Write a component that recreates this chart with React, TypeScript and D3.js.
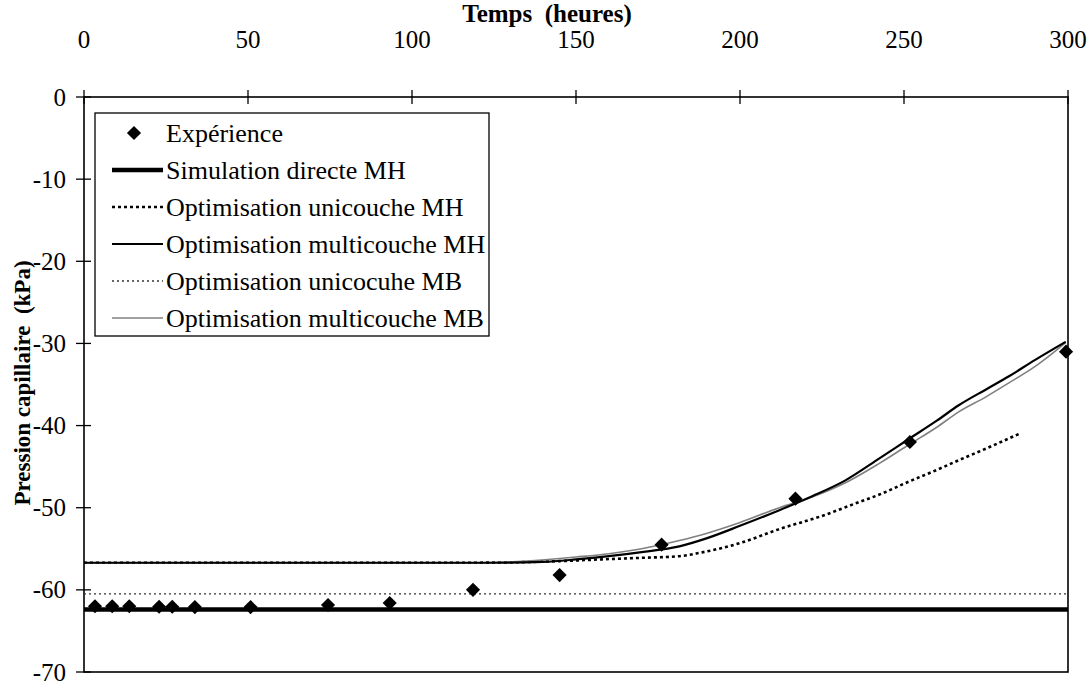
import React from "react";
import * as d3 from "d3";

const xTicks = [0, 50, 100, 150, 200, 250, 300];
const yTicks = [0, -10, -20, -30, -40, -50, -60, -70];

const expT = [3.35, 8.6, 13.8, 22.9, 26.9, 33.8, 50.8, 74.4, 93.2, 118.6, 145.0, 176.1, 216.9, 251.8, 299.4];
const expP = [-62.0, -62.0, -62.0, -62.05, -62.05, -62.1, -62.1, -61.85, -61.6, -60.0, -58.2, -54.5, -48.9, -42.0, -31.0];

const simT = [0, 300];
const simP = [-62.4, -62.4];

const uniMHT = [0, 115, 130, 145, 157, 170, 181.5, 187.6, 200, 212, 225, 236.4, 242.5, 251.6, 260, 266.8, 275, 285.7];
const uniMHP = [-56.7, -56.7, -56.65, -56.5, -56.3, -56.1, -55.9, -55.5, -54.3, -52.6, -51.0, -49.3, -48.4, -46.8, -45.4, -44.2, -42.8, -40.9];

const multiMHT = [0, 100, 125, 140, 150, 160, 170, 181.5, 190, 200, 212, 222, 232, 242.5, 251.6, 260, 266.8, 275, 282, 290, 299.3];
const multiMHP = [-56.7, -56.7, -56.7, -56.6, -56.3, -55.9, -55.4, -54.7, -53.7, -52.2, -50.3, -48.6, -46.7, -44.0, -41.6, -39.4, -37.5, -35.6, -34.0, -32.0, -29.8];

const uniMBT = [0, 300];
const uniMBP = [-60.5, -60.5];

const multiMBT = [0, 120, 135, 150, 160, 170, 181.5, 190, 200, 212, 222, 232, 242.5, 251.6, 260, 266.8, 275, 282, 290, 299.3];
const multiMBP = [-56.7, -56.7, -56.5, -56.0, -55.6, -55.0, -54.0, -53.1, -51.8, -50.0, -48.7, -47.0, -44.6, -42.3, -40.2, -38.3, -36.5, -34.8, -32.8, -29.9];

const legendLabels = [
  "Expérience",
  "Simulation directe MH",
  "Optimisation unicouche MH",
  "Optimisation multicouche MH",
  "Optimisation unicocuhe MB",
  "Optimisation multicouche MB",
];

const FONT = "Liberation Serif, Times New Roman, DejaVu Serif, serif";

const styles = {
  sim: { stroke: "#000", width: 4.5, dash: "" },
  uniMH: { stroke: "#000", width: 2.6, dash: "3,3" },
  multiMH: { stroke: "#000", width: 2.2, dash: "" },
  uniMB: { stroke: "#333", width: 1.3, dash: "2,3" },
  multiMB: { stroke: "#808080", width: 1.6, dash: "" },
};

const tf = { fontFamily: FONT };

export default function App() {
  const W = 1092, H = 685;
  const x = d3.scaleLinear().domain([0, 300]).range([84, 1068]);
  const y = d3.scaleLinear().domain([0, -70]).range([97, 672]);

  const line = d3
    .line<[number, number]>()
    .x((d) => x(d[0]))
    .y((d) => y(d[1]))
    .curve(d3.curveMonotoneX);

  const zip = (a: number[], b: number[]) => a.map((v, i) => [v, b[i]] as [number, number]);

  const series = [
    { key: "uniMB", d: zip(uniMBT, uniMBP), s: styles.uniMB },
    { key: "sim", d: zip(simT, simP), s: styles.sim },
    { key: "uniMH", d: zip(uniMHT, uniMHP), s: styles.uniMH },
    { key: "multiMB", d: zip(multiMBT, multiMBP), s: styles.multiMB },
    { key: "multiMH", d: zip(multiMHT, multiMHP), s: styles.multiMH },
  ];

  const diamond = d3.symbol().type(d3.symbolSquare).size(100)() as string;

  const legendX = 95, legendY = 113, legendW = 394, legendH = 223;
  const rowY = (i: number) => 133 + i * 37;
  const legendStyles = [null, styles.sim, styles.uniMH, styles.multiMH, styles.uniMB, styles.multiMB];

  return (
    <svg width={W} height={H} style={{ position: "absolute", left: 0, top: 0, background: "#fff" }}>
      <rect x={0} y={0} width={W} height={H} fill="#fff" />
      {/* title */}
      <text x={547} y={22} textAnchor="middle" fontSize={25} fontWeight="bold" style={{ ...tf, whiteSpace: "pre" }}>
        {"Temps  (heures)"}
      </text>
      {/* y label */}
      <text
        transform={`translate(22,383) rotate(-90)`}
        textAnchor="middle"
        dominantBaseline="central"
        fontSize={23}
        fontWeight="bold"
        style={{ ...tf, whiteSpace: "pre" }}
      >
        {"Pression capillaire  (kPa)"}
      </text>

      {/* frame */}
      <rect x={x(0)} y={y(0)} width={x(300) - x(0)} height={y(-70) - y(0)} fill="none" stroke="#000" strokeWidth={1.6} />

      {/* top ticks */}
      {xTicks.map((t) => (
        <g key={"xt" + t}>
          <line x1={x(t)} x2={x(t)} y1={y(0) - 7} y2={y(0) + 7} stroke="#000" strokeWidth={1.3} />
          <text x={x(t)} y={48} textAnchor="middle" fontSize={25} style={tf}>
            {t}
          </text>
        </g>
      ))}
      {/* y ticks */}
      {yTicks.map((t) => (
        <g key={"yt" + t}>
          <line x1={x(0) - 8} x2={x(0) + 7} y1={y(t)} y2={y(t)} stroke="#000" strokeWidth={1.3} />
          <text x={66} y={y(t)} textAnchor="end" dominantBaseline="central" fontSize={25} style={tf}>
            {t}
          </text>
        </g>
      ))}

      {/* lines */}
      {series.map((sr) => (
        <path
          key={sr.key}
          d={line(sr.d) as string}
          fill="none"
          stroke={sr.s.stroke}
          strokeWidth={sr.s.width}
          strokeDasharray={sr.s.dash || undefined}
        />
      ))}

      {/* experiment points */}
      {expT.map((t, i) => (
        <path key={"p" + i} d={diamond} transform={`translate(${x(t)},${y(expP[i])}) rotate(45)`} fill="#000" />
      ))}

      {/* legend */}
      <rect x={legendX} y={legendY} width={legendW} height={legendH} fill="#fff" stroke="#000" strokeWidth={1.3} />
      {legendLabels.map((lab, i) => {
        const ly = rowY(i);
        const st = legendStyles[i];
        return (
          <g key={"lg" + i}>
            {st ? (
              <line x1={112} x2={163} y1={ly} y2={ly} stroke={st.stroke} strokeWidth={st.width} strokeDasharray={st.dash || undefined} />
            ) : (
              <path d={diamond} transform={`translate(134,${ly}) rotate(45)`} fill="#000" />
            )}
            <text x={166} y={ly} dominantBaseline="central" fontSize={26} style={tf}>
              {lab}
            </text>
          </g>
        );
      })}
    </svg>
  );
}
